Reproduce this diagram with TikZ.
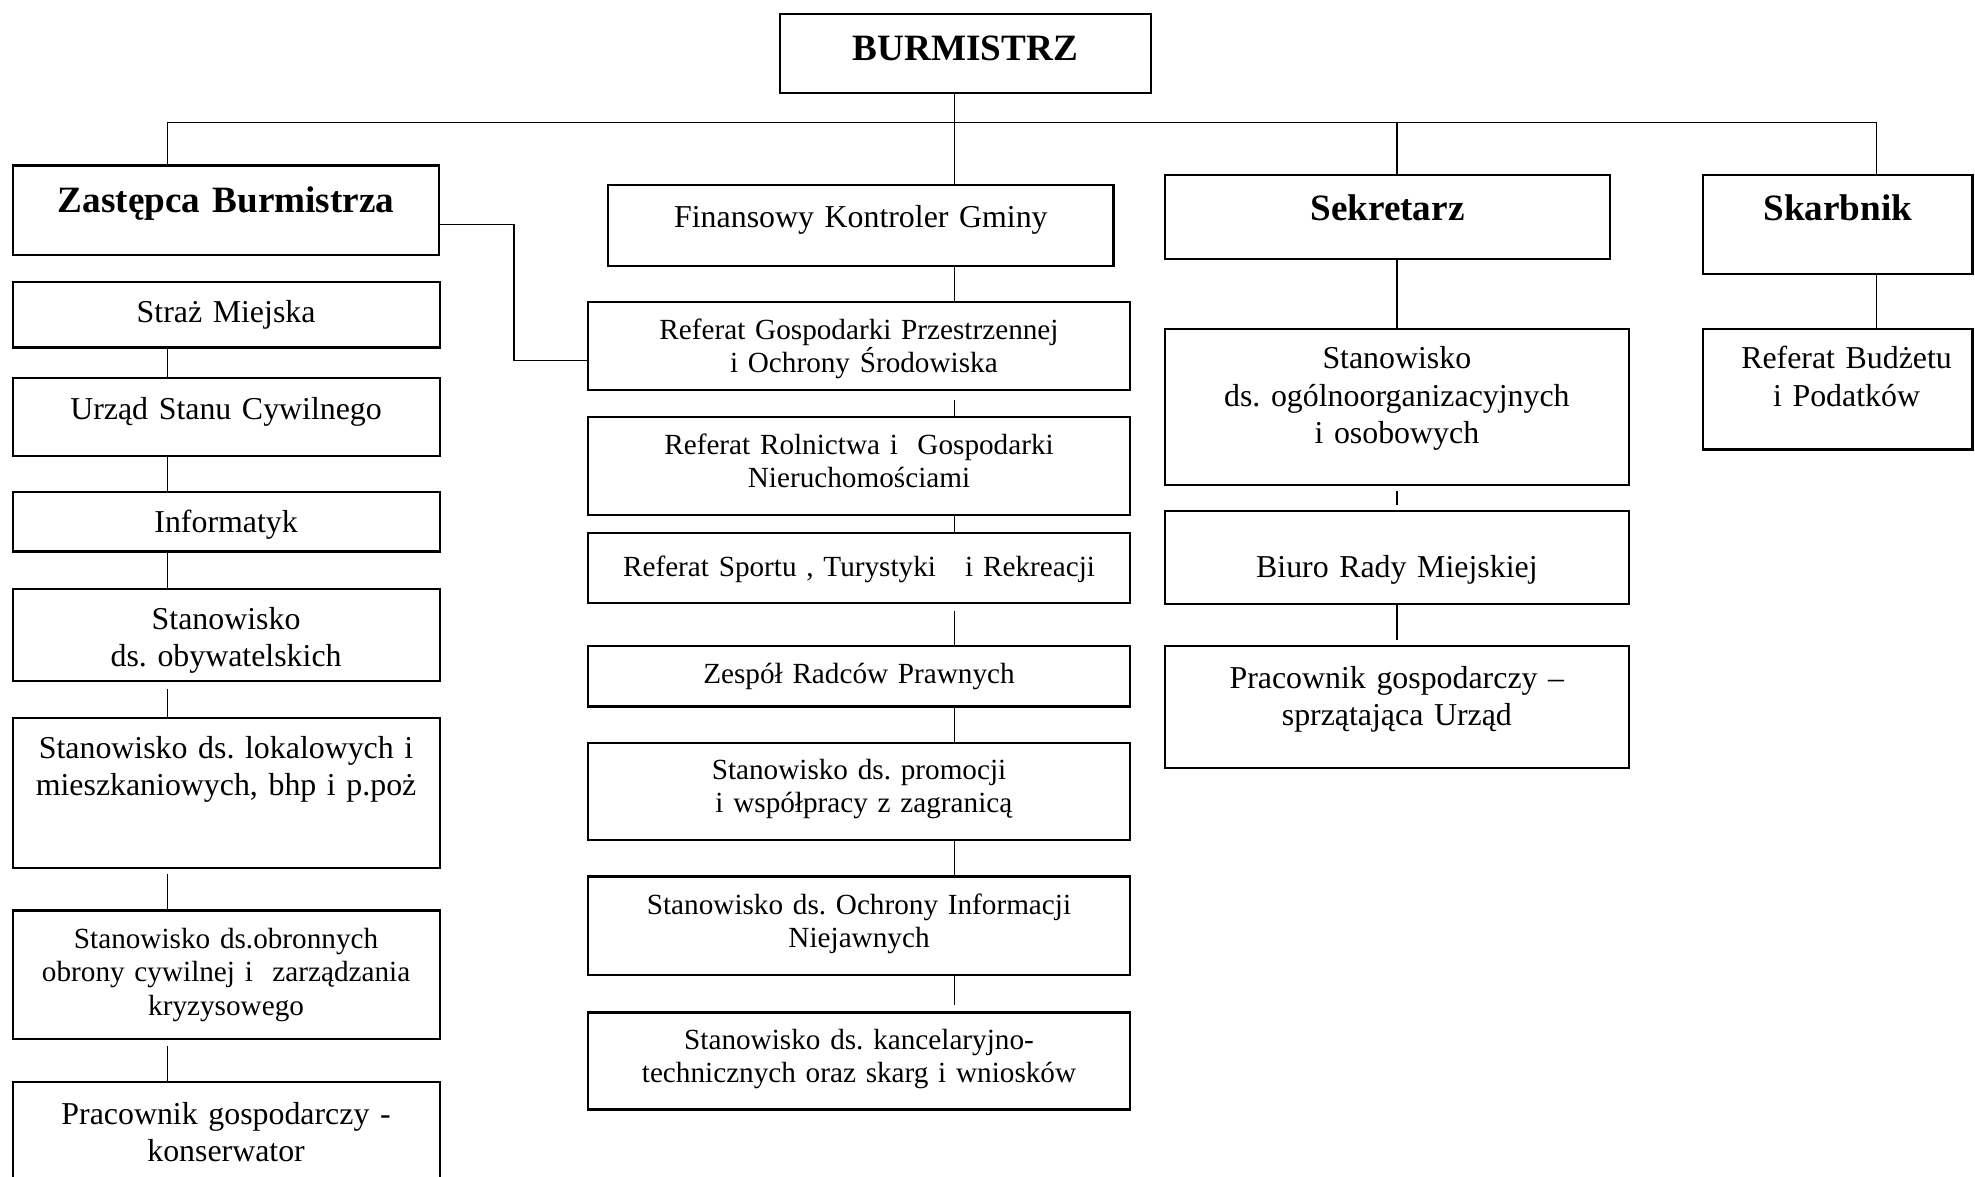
\documentclass[tikz,border=0pt]{standalone}
\usepackage{fontspec}
\setmainfont{Liberation Serif}
\frenchspacing
\newlength\pxu
\setlength\pxu{0.4743pt}

\begin{document}
\begin{tikzpicture}[x=\pxu, y=-\pxu,
  box/.style={draw, line width=0.8pt, inner sep=0pt, anchor=north, align=center},
  dims/.style n args={3}{text width=#1\pxu, text height=#2\pxu, text depth=#3\pxu},
  head/.style={font=\fontsize{14}{17}\selectfont\bfseries},
  txt/.style={font=\fontsize{12}{14}\selectfont},
  smalltxt/.style={font=\fontsize{11}{12.6}\selectfont},
  link/.style={line width=0.5pt}]
  \useasboundingbox (0,0) rectangle (1568,934);
  \clip (0,0) rectangle (1568,934);

  % top level
  \node[box, head, dims={295}{37}{26}] (burm) at (766.5,10) {BURMISTRZ};
  \node[box, head, dims={338}{37}{34}] (zast) at (179.5,130.5) {Zastępca Burmistrza};
  \node[box, txt, dims={401}{34}{30}] (fin) at (683.5,146) {Finansowy Kontroler Gminy};
  \node[box, head, dims={353}{36}{31}] (sek) at (1101.5,138) {Sekretarz};
  \node[box, head, dims={214}{36.5}{42.5}] (skarb) at (1459,138) {Skarbnik};

  % left column
  \node[box, txt, dims={339}{32}{20}] (straz) at (179.5,223) {Straż Miejska};
  \node[box, txt, dims={339}{33}{29}] (urzad) at (179.5,299) {Urząd Stanu Cywilnego};
  \node[box, txt, dims={339}{32}{15}] (inf) at (179.5,390) {Informatyk};
  \node[box, txt, dims={339}{32.5}{40.5}] (obyw) at (179.5,466.5) {Stanowisko\\ds. obywatelskich};
  \node[box, txt, dims={339}{32}{87}] (lokal) at (179.5,569) {Stanowisko ds. lokalowych i\\mieszkaniowych, bhp i p.poż};
  \node[box, smalltxt, dims={339}{30}{72}] (obron) at (179.5,722) {Stanowisko ds.obronnych\\obrony cywilnej i\ \ zarządzania\\kryzysowego};
  \node[box, txt, dims={339}{34}{90}] (konserw) at (179.5,858) {Pracownik gospodarczy -\\konserwator};

  % middle column
  \node[box, smalltxt, dims={430}{29.5}{40.5}] (gosp) at (682,239) {Referat Gospodarki Przestrzennej\\\ i Ochrony Środowiska};
  \node[box, smalltxt, dims={430}{30}{48}] (roln) at (682,330) {Referat Rolnictwa i\ \ Gospodarki\\Nieruchomościami};
  \node[box, smalltxt, dims={430}{35}{21}] (sport) at (682,422) {Referat Sportu , Turystyki\ \ \ i Rekreacji};
  \node[box, smalltxt, dims={430}{30}{18}] (zesp) at (682,512) {Zespół Radców Prawnych};
  \node[box, smalltxt, dims={430}{29}{48}] (prom) at (682,589) {Stanowisko ds. promocji\\\ i współpracy z zagranicą};
  \node[box, smalltxt, dims={430}{30}{48}] (ochr) at (682,695) {Stanowisko ds. Ochrony Informacji\\Niejawnych};
  \node[box, smalltxt, dims={430}{29}{48}] (kanc) at (682,803) {Stanowisko ds. kancelaryjno-\\technicznych oraz skarg i wniosków};

  % right columns
  \node[box, txt, dims={368}{32}{92}] (ogoln) at (1109,260) {Stanowisko\\ds. ogólnoorganizacyjnych\\i osobowych};
  \node[box, txt, dims={368}{53}{21}] (biuro) at (1109,405) {Biuro Rady Miejskiej};
  \node[box, txt, dims={368}{34}{63}] (sprz) at (1109,512) {Pracownik gospodarczy –\\sprzątająca Urząd};
  \node[box, txt, dims={214}{32}{64}] (budz) at (1459,260) {\hspace*{14\pxu}Referat Budżetu\\\hspace*{14\pxu}i Podatków};

  % connectors
  \coordinate (trunk) at (758,97);
  \coordinate (lline) at (133,97);
  \coordinate (sline) at (1109,97);
  \coordinate (kline) at (1490,97);
  \coordinate (zbend) at (408,178);
  \coordinate (zend) at (408,286);
  \draw[link] (lline) -- (kline);
  \draw[link] (burm.south -| trunk) -- (fin.north -| trunk);
  \draw[link] (lline) -- (zast.north -| lline);
  \draw[link] (sline) -- (sek.north -| sline);
  \draw[link] (kline) -- (skarb.north -| kline);
  \draw[link] (zast.east |- zbend) -- (zbend) -- (zend) -- (gosp.west |- zend);

  \draw[link] (straz.south -| lline) -- (urzad.north -| lline);
  \draw[link] (urzad.south -| lline) -- (inf.north -| lline);
  \draw[link] (inf.south -| lline) -- (obyw.north -| lline);
  \draw[link, shorten <=6\pxu] (obyw.south -| lline) -- (lokal.north -| lline);
  \draw[link, shorten <=4\pxu] (lokal.south -| lline) -- (obron.north -| lline);
  \draw[link, shorten <=5\pxu] (obron.south -| lline) -- (konserw.north -| lline);

  \draw[link] (fin.south -| trunk) -- (gosp.north -| trunk);
  \draw[link, shorten <=7\pxu] (gosp.south -| trunk) -- (roln.north -| trunk);
  \draw[link] (roln.south -| trunk) -- (sport.north -| trunk);
  \draw[link, shorten <=5\pxu] (sport.south -| trunk) -- (zesp.north -| trunk);
  \draw[link] (zesp.south -| trunk) -- (prom.north -| trunk);
  \draw[link] (prom.south -| trunk) -- (ochr.north -| trunk);
  \draw[link, shorten >=5\pxu] (ochr.south -| trunk) -- (kanc.north -| trunk);

  \draw[link] (sek.south -| sline) -- (ogoln.north -| sline);
  \draw[link, shorten <=4\pxu, shorten >=4\pxu] (ogoln.south) -- (biuro.north);
  \draw[link, shorten >=4\pxu] (biuro.south) -- (sprz.north);
  \draw[link] (skarb.south -| kline) -- (budz.north -| kline);
\end{tikzpicture}
\end{document}
